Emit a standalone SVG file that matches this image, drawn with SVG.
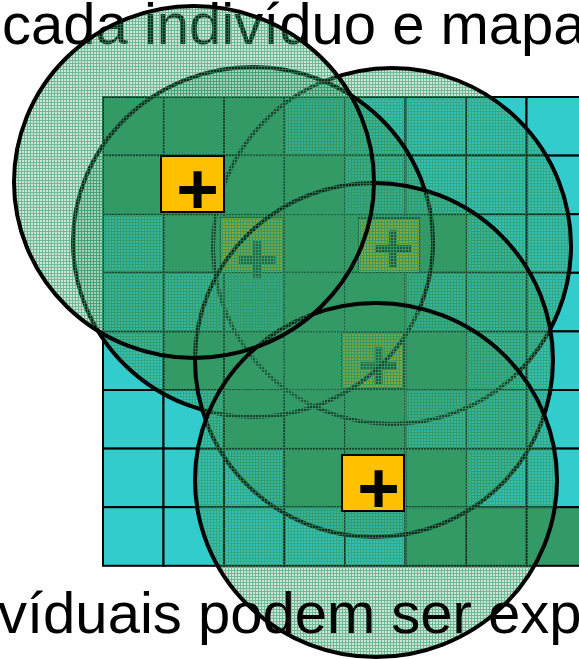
<svg xmlns="http://www.w3.org/2000/svg" width="579" height="659" viewBox="0 0 579 659">
<defs>
<pattern id="hatch" width="3" height="3" patternUnits="userSpaceOnUse">
<rect x="0" y="0" width="3" height="3" fill="#339966" fill-opacity="0.25"/>
<rect x="0" y="0" width="3" height="1" fill="#339966" fill-opacity="0.6"/>
<rect x="0" y="1" width="1" height="2" fill="#339966" fill-opacity="0.6"/>
</pattern>
<style>
.g{fill:#339966;stroke:#000;stroke-width:2}
.t{fill:#33CCCC;stroke:#000;stroke-width:2}
.sq{fill:#FFC000;stroke:#000;stroke-width:2}
.plus{font-family:"Liberation Sans",Arial,sans-serif;font-weight:bold;font-size:73px;fill:#000;text-anchor:middle}
.circ{fill:url(#hatch);stroke:#000;stroke-width:4}
.txt{font-family:"Liberation Sans",Arial,sans-serif;font-size:58px;fill:#000}
</style>
</defs>
<text class="txt" x="2" y="44">cada indivíduo e mapa</text>
<g id="grid">
<!-- row 0 -->
<rect class="g" x="103" y="97" width="60.5" height="58.6"/>
<rect class="g" x="163.5" y="97" width="60.5" height="58.6"/>
<rect class="g" x="224" y="97" width="60.5" height="58.6"/>
<rect class="t" x="284.5" y="97" width="60.5" height="58.6"/>
<rect class="t" x="345" y="97" width="60.5" height="58.6"/>
<rect class="t" x="405.5" y="97" width="60.5" height="58.6"/>
<rect class="t" x="466" y="97" width="60.5" height="58.6"/>
<rect class="t" x="526.5" y="97" width="60.5" height="58.6"/>
<!-- row 1 -->
<rect class="g" x="103" y="155.6" width="60.5" height="58.6"/>
<rect class="g" x="163.5" y="155.6" width="60.5" height="58.6"/>
<rect class="g" x="224" y="155.6" width="60.5" height="58.6"/>
<rect class="g" x="284.5" y="155.6" width="60.5" height="58.6"/>
<rect class="t" x="345" y="155.6" width="60.5" height="58.6"/>
<rect class="t" x="405.5" y="155.6" width="60.5" height="58.6"/>
<rect class="t" x="466" y="155.6" width="60.5" height="58.6"/>
<rect class="t" x="526.5" y="155.6" width="60.5" height="58.6"/>
<!-- row 2 -->
<rect class="t" x="103" y="214.2" width="60.5" height="58.6"/>
<rect class="g" x="163.5" y="214.2" width="60.5" height="58.6"/>
<rect class="g" x="224" y="214.2" width="60.5" height="58.6"/>
<rect class="g" x="284.5" y="214.2" width="60.5" height="58.6"/>
<rect class="g" x="345" y="214.2" width="60.5" height="58.6"/>
<rect class="g" x="405.5" y="214.2" width="60.5" height="58.6"/>
<rect class="t" x="466" y="214.2" width="60.5" height="58.6"/>
<rect class="t" x="526.5" y="214.2" width="60.5" height="58.6"/>
<!-- row 3 -->
<rect class="t" x="103" y="272.8" width="60.5" height="58.6"/>
<rect class="t" x="163.5" y="272.8" width="60.5" height="58.6"/>
<rect class="t" x="224" y="272.8" width="60.5" height="58.6"/>
<rect class="g" x="284.5" y="272.8" width="60.5" height="58.6"/>
<rect class="g" x="345" y="272.8" width="60.5" height="58.6"/>
<rect class="t" x="405.5" y="272.8" width="60.5" height="58.6"/>
<rect class="t" x="466" y="272.8" width="60.5" height="58.6"/>
<rect class="t" x="526.5" y="272.8" width="60.5" height="58.6"/>
<!-- row 4 -->
<rect class="t" x="103" y="331.4" width="60.5" height="58.6"/>
<rect class="g" x="163.5" y="331.4" width="60.5" height="58.6"/>
<rect class="g" x="224" y="331.4" width="60.5" height="58.6"/>
<rect class="g" x="284.5" y="331.4" width="60.5" height="58.6"/>
<rect class="g" x="345" y="331.4" width="60.5" height="58.6"/>
<rect class="g" x="405.5" y="331.4" width="60.5" height="58.6"/>
<rect class="t" x="466" y="331.4" width="60.5" height="58.6"/>
<rect class="t" x="526.5" y="331.4" width="60.5" height="58.6"/>
<!-- row 5 -->
<rect class="t" x="103" y="390" width="60.5" height="58.6"/>
<rect class="t" x="163.5" y="390" width="60.5" height="58.6"/>
<rect class="g" x="224" y="390" width="60.5" height="58.6"/>
<rect class="g" x="284.5" y="390" width="60.5" height="58.6"/>
<rect class="g" x="345" y="390" width="60.5" height="58.6"/>
<rect class="t" x="405.5" y="390" width="60.5" height="58.6"/>
<rect class="t" x="466" y="390" width="60.5" height="58.6"/>
<rect class="t" x="526.5" y="390" width="60.5" height="58.6"/>
<!-- row 6 -->
<rect class="t" x="103" y="448.6" width="60.5" height="58.6"/>
<rect class="t" x="163.5" y="448.6" width="60.5" height="58.6"/>
<rect class="t" x="224" y="448.6" width="60.5" height="58.6"/>
<rect class="g" x="284.5" y="448.6" width="60.5" height="58.6"/>
<rect class="g" x="345" y="448.6" width="60.5" height="58.6"/>
<rect class="g" x="405.5" y="448.6" width="60.5" height="58.6"/>
<rect class="t" x="466" y="448.6" width="60.5" height="58.6"/>
<rect class="t" x="526.5" y="448.6" width="60.5" height="58.6"/>
<!-- row 7 -->
<rect class="t" x="103" y="507.2" width="60.5" height="58.6"/>
<rect class="t" x="163.5" y="507.2" width="60.5" height="58.6"/>
<rect class="t" x="224" y="507.2" width="60.5" height="58.6"/>
<rect class="t" x="284.5" y="507.2" width="60.5" height="58.6"/>
<rect class="t" x="345" y="507.2" width="60.5" height="58.6"/>
<rect class="g" x="405.5" y="507.2" width="60.5" height="58.6"/>
<rect class="g" x="466" y="507.2" width="60.5" height="58.6"/>
<rect class="g" x="526.5" y="507.2" width="60.5" height="58.6"/>
</g>
<g id="square2"><rect class="sq" x="220" y="217" width="63" height="56"/><text class="plus" x="257" y="284">+</text></g>
<g id="square3"><rect class="sq" x="358" y="218" width="62" height="55"/><text class="plus" x="393" y="273">+</text></g>
<g id="square4"><rect class="sq" x="342" y="333" width="62" height="56"/><text class="plus" x="378.5" y="390">+</text></g>
<g id="circles">
<ellipse id="circleC" class="circ" cx="392" cy="246" rx="179" ry="178"/>
<ellipse id="circleB" class="circ" cx="253" cy="242" rx="180" ry="175"/>
<ellipse id="circleD" class="circ" cx="374" cy="360" rx="179" ry="177"/>
<ellipse id="circleE" class="circ" cx="376" cy="480" rx="181" ry="177"/>
<ellipse id="circleA" class="circ" cx="194" cy="182" rx="180" ry="176"/>
</g>
<g id="square1"><rect class="sq" x="161" y="156" width="63" height="56"/><text class="plus" x="197.5" y="213.5">+</text></g>
<g id="square5"><rect class="sq" x="342" y="455" width="62" height="56"/><text class="plus" x="378.5" y="512.5">+</text></g>
<text class="txt" x="-2" y="633">víduais podem ser exp</text>
</svg>
